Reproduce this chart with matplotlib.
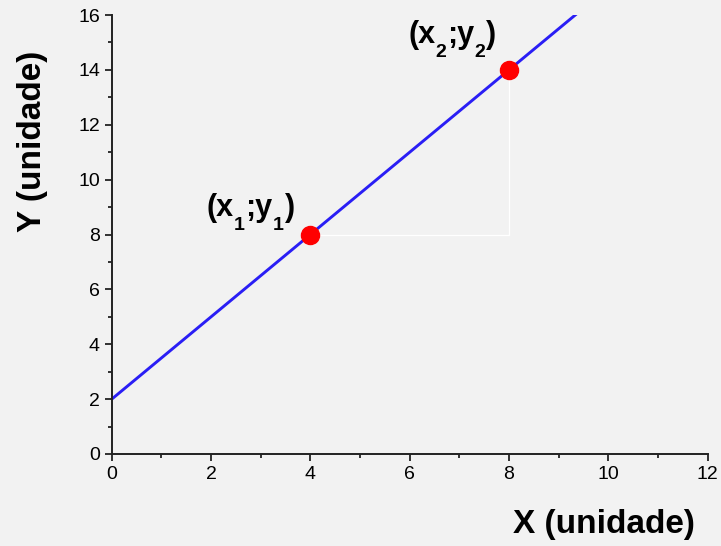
import numpy as np
import matplotlib.pyplot as plt
from matplotlib.ticker import MultipleLocator

plt.rcParams['font.family'] = ['Liberation Sans', 'DejaVu Sans']

# reta y = a*x + b
x_line = [0, 12]
slope = 1.5
intercept = 2
pts_x = [4, 8]
pts_y = [8, 14]
pt_idx = ["1", "2"]

bg = '#f2f2f2'
fig = plt.figure(figsize=(7.21, 5.46), dpi=100, facecolor=bg)
ax = fig.add_axes([0.155, 0.1685, 0.8265, 0.804])
ax.set_facecolor(bg)

xl = np.array(x_line)
ax.plot(xl, slope * xl + intercept, color='#2a1ef5', lw=2.1, zorder=2)

# triangulo auxiliar
ax.plot([pts_x[0], pts_x[1], pts_x[1]], [pts_y[0], pts_y[0], pts_y[1]],
        color='white', lw=0.9, zorder=1)

ax.plot(pts_x, pts_y, 'o', color='#ff0000', ms=13, zorder=3)


def label_sub(x, y, idx, off):
    # "(x_i;y_i)" montado em pedacos para ter subscrito em negrito
    pieces = [("(x", False), (idx, True), (";y", False), (idx, True), (")", False)]
    first = ax.annotate(pieces[0][0], (x, y), xytext=off, textcoords='offset points',
                        ha='left', va='baseline', fontsize=22, fontweight='bold')
    prev = first
    for txt, sub in pieces[1:]:
        prev = ax.annotate(txt, (1, 0), xycoords=(prev, first),
                           xytext=(0.3 if sub else 0.6, -7.5 if sub else 0),
                           textcoords='offset points',
                           ha='left', va='bottom', fontweight='bold',
                           fontsize=14 if sub else 22)


offsets = [(-75, 13.2), (-72.7, 19.2)]
for x, y, idx, off in zip(pts_x, pts_y, pt_idx, offsets):
    label_sub(x, y, idx, off)

ax.set_xlim(0, 12)
ax.set_ylim(0, 16)
ax.xaxis.set_major_locator(MultipleLocator(2))
ax.xaxis.set_minor_locator(MultipleLocator(1))
ax.yaxis.set_major_locator(MultipleLocator(2))
ax.yaxis.set_minor_locator(MultipleLocator(1))

for s in ['top', 'right']:
    ax.spines[s].set_visible(False)
for s in ['left', 'bottom']:
    ax.spines[s].set_linewidth(1.4)
    ax.spines[s].set_color('#222222')

ax.tick_params(which='major', length=5, width=1.3, labelsize=14, color='#222222')
ax.tick_params(which='minor', length=3, width=1.3, color='#222222')

ax.set_xlabel('X (unidade)', fontsize=24, fontweight='bold')
ax.set_ylabel('Y (unidade)', fontsize=24, fontweight='bold')
ax.xaxis.set_label_coords(0.826, -0.125)
ax.yaxis.set_label_coords(-0.107, 0.713)

fig.savefig('out.png', dpi=100, facecolor=bg)
